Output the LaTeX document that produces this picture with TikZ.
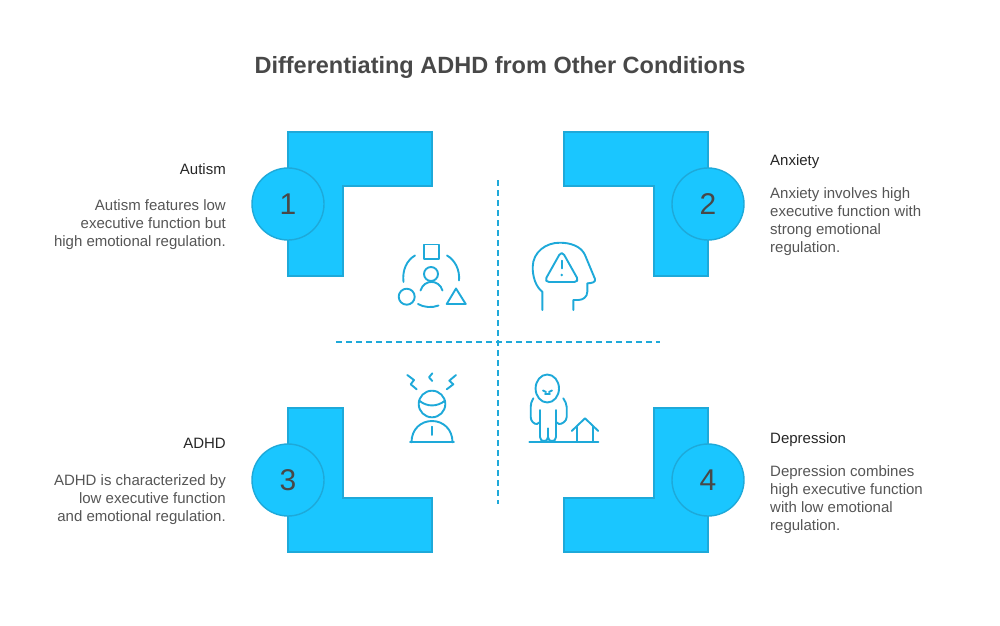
\documentclass[tikz,border=0pt]{standalone}
\usepackage{fontspec}
\setmainfont{Liberation Sans}
\usepackage{xcolor}
\usetikzlibrary{positioning}
\definecolor{blockblue}{HTML}{1AC6FF}
\definecolor{lineblue}{HTML}{1EA9D9}
\definecolor{textgrey}{HTML}{555555}
\definecolor{titlegrey}{HTML}{484848}
\tikzset{
	block/.style={fill=blockblue,draw=lineblue,line width=1.4pt,miter limit=10},
	badge/.style={circle,minimum size=72pt,inner sep=0pt,fill=blockblue,draw=lineblue,line width=1.4pt,text=titlegrey,font=\fontsize{30}{30}\selectfont},
	icon/.style={draw=lineblue,line width=1.9pt,line cap=round,line join=round},
	head/.style={inner sep=0pt,text=black!85,font=\fontsize{15}{18}\selectfont},
	body/.style={inner sep=0pt,text=textgrey,font=\fontsize{15}{18}\selectfont},
	axis/.style={draw=lineblue,line width=1.7pt,dash pattern=on 6pt off 4pt}
}
\newcommand{\plotCorner}[9]
{
	\draw[block] (#1,#2)--(#3,#2)--(#3,#4)--(#5,#4)--(#5,#6)--(#1,#6)--cycle;
	\node[badge] (#7) at (#8,#9) {#7};
}
\begin{document}
\begin{tikzpicture}[x=1pt,y=-1pt]
\useasboundingbox (0,0) rectangle (1000,625);
\node[inner sep=0pt,text=titlegrey,font=\fontsize{23.5}{30}\selectfont\bfseries] (title) at (500,67) {Differentiating ADHD from Other Conditions};

% blocks
\plotCorner{288}{132}{432}{186}{343}{276}{1}{288}{204}
\plotCorner{708}{132}{564}{186}{654}{276}{2}{708}{204}
\plotCorner{288}{552}{432}{498}{343}{408}{3}{288}{480}
\plotCorner{708}{552}{564}{498}{654}{408}{4}{708}{480}

% axes
\coordinate (west) at (336,342);
\coordinate (east) at (660,342);
\coordinate (north) at (498,180);
\coordinate (south) at (498,504);
\draw[axis] (west)--(east);
\draw[axis] (north)--(south);

% labels
\node[head,anchor=north east] (autismhead) at (226,163) {Autism};
\node[body,anchor=north east,align=right] (autismbody) at (226,199) {Autism features low\\executive function but\\high emotional regulation.};
\node[head,anchor=north west] (anxietyhead) at (770,154) {Anxiety};
\node[body,anchor=north west,align=left] (anxietybody) at (770,187) {Anxiety involves high\\executive function with\\strong emotional\\regulation.};
\node[head,anchor=north east] (adhdhead) at (226,438) {ADHD};
\node[body,anchor=north east,align=right] (adhdbody) at (226,474) {ADHD is characterized by\\low executive function\\and emotional regulation.};
\node[head,anchor=north west] (depressionhead) at (770,432) {Depression};
\node[body,anchor=north west,align=left] (depressionbody) at (770,465) {Depression combines\\high executive function\\with low emotional\\regulation.};

% icon autism
\draw[icon] (424,244.5) rectangle (439,259);
\draw[icon] (431,274) circle (7);
\draw[icon] (420.5,290.5) .. controls (424,279) and (439,279) .. (442.5,290.5);
\draw[icon] (406.7,296.7) circle (8);
\draw[icon] (456,288.5)--(446.7,304)--(465.7,304)--cycle;
\draw[icon] (415,255.5) .. controls (407,260) and (402,270) .. (403.5,282);
\draw[icon] (447,255.5) .. controls (455,260) and (460,270) .. (459,280.5);
\draw[icon] (418,304) .. controls (424,307.5) and (432,308) .. (438.5,305.5);

% icon anxiety
\draw[icon] (542.3,310)--(542.3,291.7) .. controls (536,287) and (532.5,277) .. (532.7,266.7) .. controls (533,252) and (546,242.5) .. (560,242.7) .. controls (570,242.7) and (581,246) .. (585,255) -- (595,279) .. controls (596,282) and (592,283.3) .. (587.3,283.3) -- (587.3,291.7) .. controls (587.3,297) and (583,300) .. (578.3,300) -- (573.3,300) -- (573.3,310);
\draw[icon,rounded corners=5pt] (561.7,250.5)--(544,282)--(579.4,282)--cycle;
\draw[icon] (561.7,260.7)--(561.7,268.3);
\fill[lineblue] (561.7,275) circle (1.4);

% icon adhd
\draw[icon] (432,404) circle (13.3);
\draw[icon] (419.3,400.7) .. controls (427,407) and (437,407) .. (445,400.7);
\draw[icon] (410,442.3)--(454,442.3);
\draw[icon] (411.5,442.3) .. controls (411.5,429) and (421,421) .. (432,421) .. controls (443,421) and (452.5,429) .. (452.5,442.3);
\draw[icon] (432,426.7)--(432,435);
\draw[icon] (407.3,375)--(414,380)--(410.7,384.3)--(416.7,389.3);
\draw[icon] (456,375)--(449.3,380.7)--(453.3,384.3)--(446.7,389.3);
\draw[icon] (432.3,373.3)--(429,377.3)--(432.3,381);

% icon depression
\draw[icon] (547.3,388.5) ellipse (11.7 and 14);
\draw[icon] (543,390.5)--(546,392);
\draw[icon] (552,390.5)--(549,392);
\draw[icon] (545,394)--(550,394);
\draw[icon] (533.3,398.3) .. controls (531.5,401) and (530.7,404) .. (530.7,407) -- (530.7,417) .. controls (530.7,421) and (534,424.3) .. (537,424) -- (540,422);
\draw[icon] (563.3,398.3) .. controls (565,401) and (566.7,404) .. (566.7,407) -- (566.7,417) .. controls (566.7,421) and (562,424.3) .. (559,424) -- (556,422);
\draw[icon] (540,410)--(540,437) .. controls (540,440) and (542,441) .. (544,441) .. controls (546,441) and (548,440) .. (548,437) -- (548,428.3);
\draw[icon] (556,410)--(556,437) .. controls (556,440) and (554,441) .. (552,441) .. controls (550,441) and (548,440) .. (548,437);
\draw[icon] (529.3,441.7)--(598.3,441.7);
\draw[icon] (571.7,431)--(585,418.3)--(598.3,431);
\draw[icon] (577.3,426.7)--(577.3,441.7);
\draw[icon] (593.3,426.7)--(593.3,441.7);
\end{tikzpicture}
\end{document}
